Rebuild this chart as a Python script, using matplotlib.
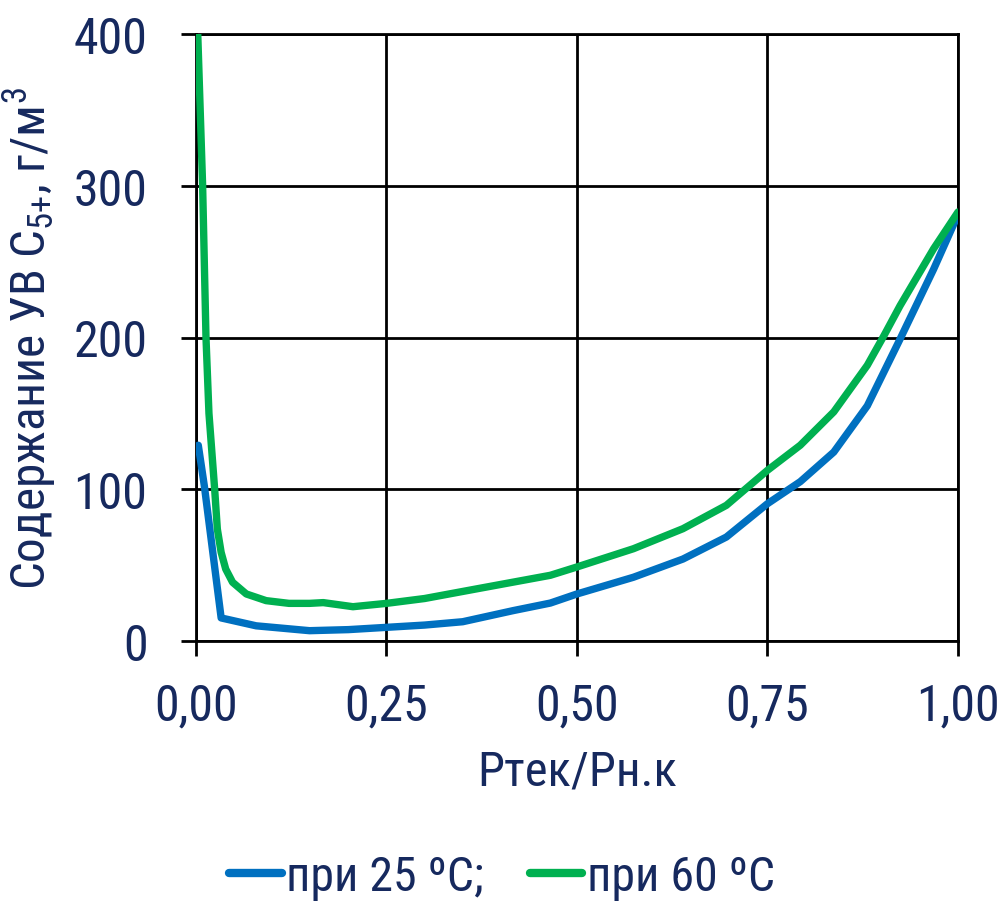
import matplotlib
matplotlib.use("Agg")
import matplotlib.pyplot as plt
from matplotlib.ticker import FixedLocator

FAMILIES = ['Liberation Sans Narrow', 'Arial Narrow', 'Roboto Condensed', 'Archivo Narrow',
            'PT Sans Narrow', 'Liberation Sans', 'DejaVu Sans']
plt.rcParams['font.family'] = FAMILIES
plt.rcParams['mathtext.fontset'] = 'custom'
plt.rcParams['mathtext.rm'] = 'Roboto Condensed'
plt.rcParams['mathtext.it'] = 'Roboto Condensed'

# Data
x_25 = [0.003, 0.011, 0.033, 0.079, 0.149, 0.20, 0.25, 0.30, 0.35, 0.416, 0.465, 0.50,
        0.574, 0.639, 0.696, 0.75, 0.793, 0.837, 0.881, 0.924, 0.968, 1.0]
y_25 = [129, 102, 15.2, 10, 6.8, 7.5, 9, 10.5, 12.7, 20, 25, 31,
        42, 54, 68.5, 90.5, 105, 124.5, 155, 199, 245, 281]

x_60 = [0.0023, 0.0087, 0.0109, 0.0131, 0.017, 0.0245, 0.028, 0.033, 0.039, 0.048, 0.066,
        0.092, 0.122, 0.149, 0.167, 0.206, 0.25, 0.30, 0.372, 0.465, 0.50, 0.574, 0.639,
        0.696, 0.75, 0.793, 0.837, 0.881, 0.903, 0.924, 0.968, 1.0]
y_60 = [400, 300, 250, 200, 150, 100, 73.8, 58.4, 47.4, 38.7, 31,
        26.6, 24.8, 24.8, 25.3, 22.6, 24.8, 28, 34.7, 43.3, 48.8, 60.8, 74,
        89.4, 112.5, 129, 151, 181.7, 201.4, 221, 258.5, 282.7]

x_ticks = [0.0, 0.25, 0.5, 0.75, 1.0]
x_tick_labels = ['0,00', '0,25', '0,50', '0,75', '1,00']
y_ticks = [0, 100, 200, 300, 400]

label_25 = 'при 25 ºC;'
label_60 = 'при 60 ºC'

text_color = '#16295E'

fig = plt.figure(figsize=(10.04, 9.03), dpi=100)
ax = fig.add_axes([196/1004, 1-642/903, (958-196)/1004, (642-35)/903])

ax.plot(x_25, y_25, color='#0070C0', lw=5.3, label=label_25, solid_joinstyle='round',
        solid_capstyle='round', zorder=3)
ax.plot(x_60, y_60, color='#00B050', lw=5.3, label=label_60, solid_joinstyle='round',
        solid_capstyle='round', zorder=4)

ax.set_xlim(0, 1)
ax.set_ylim(0, 400)
ax.xaxis.set_major_locator(FixedLocator(x_ticks))
ax.set_xticklabels(x_tick_labels)
ax.yaxis.set_major_locator(FixedLocator(y_ticks))
ax.grid(True, color='black', lw=2)
for s in ax.spines.values():
    s.set_color('black')
    s.set_linewidth(2)
ax.tick_params(axis='both', direction='out', length=11, width=2, color='black',
               labelsize=36, labelcolor=text_color)
ax.tick_params(axis='x', pad=18)
ax.tick_params(axis='y', pad=24)

ax.set_xlabel('Ртек/Рн.к', fontsize=35, color=text_color, labelpad=14)
ax.set_ylabel(r'Содержание УВ C$_{5{+}}$, г/м$^{3}$', fontsize=35.5, color=text_color, labelpad=10)

leg = fig.legend(loc='center', bbox_to_anchor=(0.5, 1-878/903), ncol=2, frameon=False,
                 fontsize=34.5, handlelength=1.1, handletextpad=0.1, columnspacing=0.95,
                 labelcolor=text_color)
for h in leg.legend_handles:
    h.set_linewidth(6)
    h.set_solid_capstyle('round')

fig.savefig('out.png', dpi=100)
